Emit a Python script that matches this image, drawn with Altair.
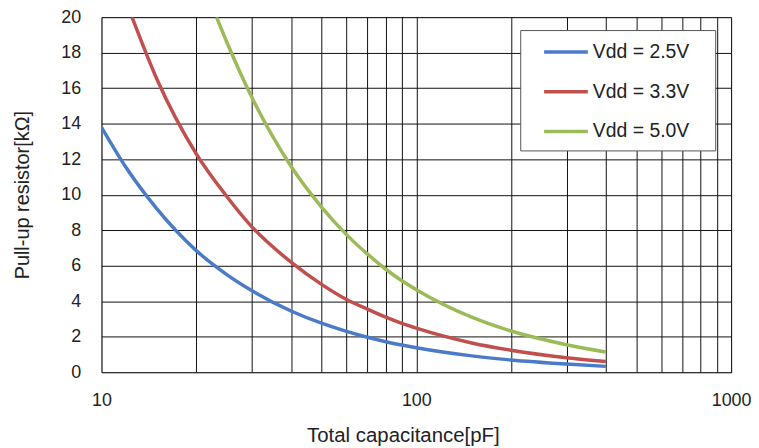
import altair as alt
import pandas as pd

series_names = ["Vdd = 2.5V", "Vdd = 3.3V", "Vdd = 5.0V"]
series_colors = ["#4A7BC8", "#C0504D", "#9BBB59"]

blue_c = [10, 12, 15, 20, 25, 30, 40, 50, 60, 70, 80, 90, 100, 150, 200, 300, 400]
blue_r = [13.8, 11.5, 9.2, 6.85, 5.5, 4.6, 3.45, 2.76, 2.3, 1.97, 1.72, 1.53, 1.38, 0.92, 0.69, 0.46, 0.33]
red_c = [12.5, 15, 20, 25, 30, 40, 50, 60, 70, 80, 90, 100, 150, 200, 300, 400]
red_r = [20, 16.5, 12.3, 9.9, 8.2, 6.2, 4.95, 4.1, 3.55, 3.1, 2.75, 2.48, 1.65, 1.24, 0.82, 0.61]
green_c = [23.2, 25, 30, 40, 50, 60, 70, 80, 90, 100, 150, 200, 300, 400]
green_r = [20, 18.6, 15.5, 11.6, 9.3, 7.75, 6.65, 5.8, 5.15, 4.65, 3.1, 2.32, 1.55, 1.14]

x_grid = [10, 20, 30, 40, 50, 60, 70, 80, 90, 100, 200, 300, 400, 500, 600, 700, 800, 900, 1000]
y_ticks = [0, 2, 4, 6, 8, 10, 12, 14, 16, 18, 20]

rows = []
for name, cs, rs in zip(series_names, [blue_c, red_c, green_c], [blue_r, red_r, green_r]):
    for i, (c, r) in enumerate(zip(cs, rs)):
        rows.append({"series": name, "C": c, "R": r, "order": i})
df = pd.DataFrame(rows)

FONT = "Liberation Sans"

chart = alt.Chart(df).mark_line(strokeWidth=3.5, interpolate="monotone", clip=True).encode(
    x=alt.X("C:Q",
            scale=alt.Scale(type="log", domain=[10, 1000], nice=False),
            axis=alt.Axis(values=x_grid, title="Total capacitance[pF]",
                          labelExpr="(datum.value == 10 || datum.value == 100 || datum.value == 1000) ? '' + datum.value : ''",
                          labelOverlap=False, labelFlush=False, ticks=False, labelPadding=19,
                          labelFontSize=18, titleFontSize=20.5, titlePadding=17, titleX=303,
                          titleFontWeight="normal", labelColor="#222", titleColor="#222",
                          grid=True, gridColor="#111", gridWidth=1, domain=False,
                          labelFont=FONT, titleFont=FONT)),
    y=alt.Y("R:Q",
            scale=alt.Scale(domain=[0, 20], nice=False),
            axis=alt.Axis(values=y_ticks, title="Pull-up resistor[kΩ]",
                          ticks=False, labelPadding=21, labelFontSize=18, titleFontSize=20,
                          titlePadding=28, titleFontWeight="normal", labelColor="#222",
                          titleColor="#222", grid=True, gridColor="#111", gridWidth=1,
                          domain=False, labelFont=FONT, titleFont=FONT)),
    color=alt.Color("series:N",
                    scale=alt.Scale(domain=series_names, range=series_colors),
                    legend=alt.Legend(title=None, orient="none", legendX=421, legendY=13,
                                      symbolType="M-2,0L2,0", symbolSize=484, symbolStrokeWidth=3.5,
                                      labelFontSize=19.5, labelFont=FONT, labelColor="#222",
                                      labelExpr="datum.label + '\u00a0\u00a0\u00a0\u200b'",
                                      rowPadding=17, padding=9, symbolOffset=24, labelOffset=14,
                                      strokeColor="#555", fillColor="white")),
    order="order:Q",
).properties(
    width=633, height=357,
    autosize="none",
    padding={"left": 94, "top": 8, "right": 20, "bottom": 75},
).configure_view(stroke="#999", strokeWidth=1)

chart.save("out.html", embed_options={"renderer": "svg", "actions": False})
